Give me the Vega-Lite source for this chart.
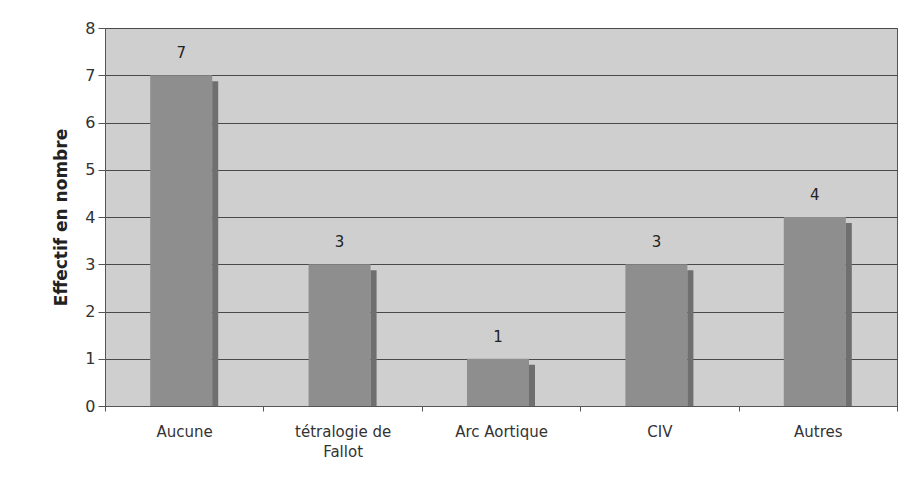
{
  "$schema": "https://vega.github.io/schema/vega-lite/v6.json",
  "width": 792,
  "height": 378,
  "autosize": "none",
  "padding": {"left": 105, "top": 28, "right": 12, "bottom": 83},
  "background": "#ffffff",
  "config": {
    "font": "DejaVu Sans",
    "view": {"fill": "#cfcfcf", "stroke": "#555555", "strokeWidth": 1}
  },
  "data": {
    "values": [
      {"categorie": "Aucune", "effectif": 7},
      {"categorie": "tétralogie de Fallot", "effectif": 3},
      {"categorie": "Arc Aortique", "effectif": 1},
      {"categorie": "CIV", "effectif": 3},
      {"categorie": "Autres", "effectif": 4}
    ]
  },
  "encoding": {
    "x": {
      "field": "categorie",
      "type": "nominal",
      "sort": null,
      "scale": {"paddingInner": 0, "paddingOuter": 0},
      "axis": {
        "title": null,
        "labelAngle": 0,
        "tickBand": "extent",
        "tickSize": 5,
        "tickColor": "#555555",
        "domainColor": "#555555",
        "labelFontSize": 15,
        "labelColor": "#333333",
        "labelPadding": 13,
        "labelLineHeight": 20,
        "labelExpr": "datum.label == 'tétralogie de Fallot' ? ['tétralogie de', 'Fallot'] : datum.label"
      }
    },
    "y": {
      "field": "effectif",
      "type": "quantitative",
      "scale": {"domain": [0, 8], "nice": false},
      "axis": {
        "title": "Effectif en nombre",
        "titleFontSize": 17,
        "titleFontWeight": "bold",
        "titleColor": "#222222",
        "titlePadding": 14,
        "values": [0, 1, 2, 3, 4, 5, 6, 7, 8],
        "labelOverlap": false,
        "grid": true,
        "gridColor": "#4a4a4a",
        "gridOpacity": 1,
        "tickColor": "#555555",
        "tickSize": 7,
        "domainColor": "#555555",
        "labelFontSize": 16,
        "labelColor": "#333333",
        "labelPadding": 3
      }
    }
  },
  "layer": [
    {
      "mark": {"type": "bar", "width": 62, "xOffset": -3, "color": "#8e8e8e"}
    },
    {
      "mark": {"type": "bar", "width": 6, "xOffset": 31, "yOffset": 6, "y2Offset": 0, "color": "#6f6f6f"},
      "encoding": {"y2": {"datum": 0}}
    },
    {
      "mark": {"type": "text", "xOffset": -3, "dy": -22, "fontSize": 15, "color": "#222222"},
      "encoding": {"text": {"field": "effectif", "type": "quantitative"}}
    }
  ]
}
